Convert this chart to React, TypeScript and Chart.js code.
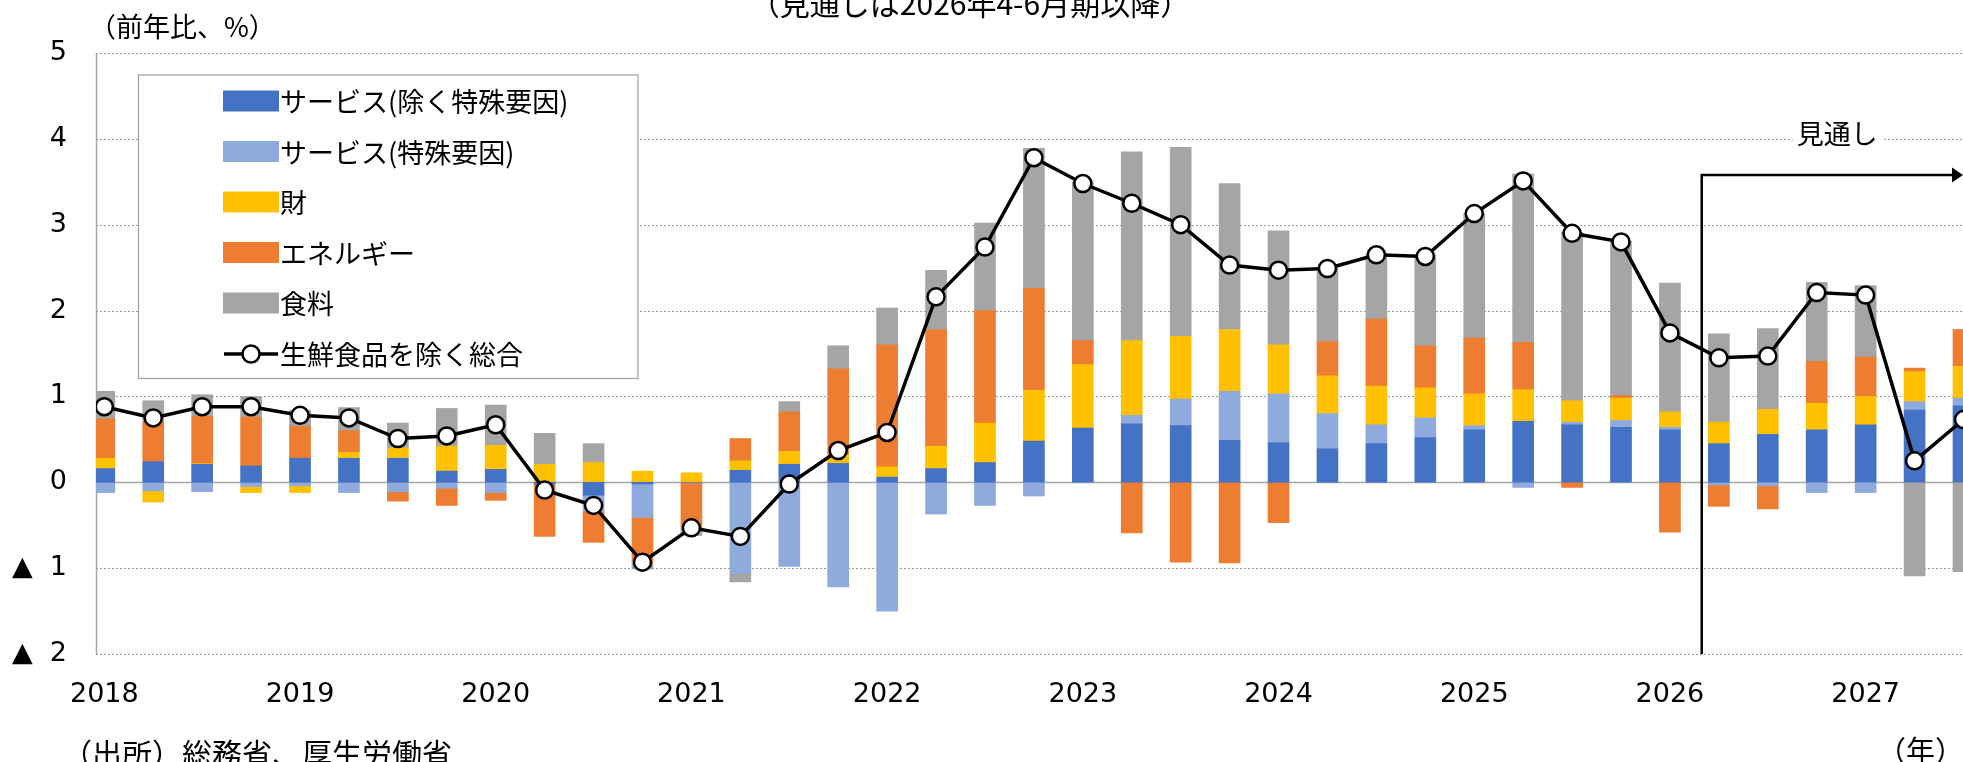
import { useEffect, useRef } from "react";
import { Chart, registerables } from "chart.js";

Chart.register(...registerables);

// Quarterly data, 2018 Q1 (index 0) to 2027 Q3 (index 38); forecast from 2026 Q2
const yearLabels = ["2018", "2019", "2020", "2021", "2022", "2023", "2024", "2025", "2026", "2027"];
const yearTickPositions = [0, 4, 8, 12, 16, 20, 24, 28, 32, 36];
const yAxisTicks = [5, 4, 3, 2, 1, 0, -1, -2];

// Contributions to the y/y change (% points)
const serviceCore = [
  0.16, 0.24, 0.21, 0.19, 0.28, 0.28, 0.28, 0.13,
  0.15, -0.02, -0.15, -0.02, 0.0, 0.14, 0.21, 0.22,
  0.06, 0.16, 0.23, 0.48, 0.63, 0.68, 0.66, 0.49,
  0.46, 0.39, 0.45, 0.52, 0.61, 0.71, 0.67, 0.64,
  0.61, 0.45, 0.56, 0.61, 0.67, 0.84, 0.89,
];
const serviceSpecial = [
  -0.12, -0.10, -0.11, -0.05, -0.04, -0.12, -0.11, -0.07,
  -0.12, 0.0, -0.19, -0.39, 0.0, -1.06, -0.98, -1.22,
  -1.50, -0.37, -0.27, -0.16, 0.0, 0.10, 0.31, 0.57,
  0.57, 0.41, 0.22, 0.23, 0.05, -0.06, 0.03, 0.08,
  0.03, -0.03, -0.04, -0.12, -0.12, 0.10, 0.09,
];
const goods = [
  0.12, -0.13, 0.01, -0.07, -0.08, 0.07, 0.12, 0.29,
  0.28, 0.21, 0.23, 0.13, 0.11, 0.11, 0.15, 0.10,
  0.12, 0.26, 0.46, 0.59, 0.74, 0.87, 0.73, 0.72,
  0.57, 0.44, 0.45, 0.35, 0.37, 0.37, 0.25, 0.26,
  0.18, 0.25, 0.29, 0.31, 0.33, 0.35, 0.37,
];
const energy = [
  0.46, 0.46, 0.55, 0.57, 0.37, 0.25, -0.11, -0.20,
  -0.09, -0.61, -0.36, -0.51, -0.55, 0.26, 0.46, 1.00,
  1.42, 1.36, 1.31, 1.19, 0.28, -0.59, -0.93, -0.94,
  -0.47, 0.40, 0.78, 0.49, 0.65, 0.55, -0.06, 0.03,
  -0.58, -0.25, -0.27, 0.49, 0.46, 0.04, 0.43,
];
const food = [
  0.32, 0.25, 0.25, 0.24, 0.19, 0.27, 0.29, 0.44,
  0.47, 0.36, 0.22, -0.09, -0.07, -0.10, 0.12, 0.27,
  0.43, 0.69, 1.02, 1.63, 1.85, 2.20, 2.20, 1.70,
  1.33, 0.86, 0.76, 1.06, 1.45, 1.96, 1.96, 1.80,
  1.50, 1.03, 0.94, 0.92, 0.83, -1.09, -1.04,
];
// CPI less fresh food, y/y %
const coreCpi = [
  0.88, 0.75, 0.88, 0.88, 0.78, 0.75, 0.51, 0.54,
  0.67, -0.09, -0.27, -0.93, -0.53, -0.63, -0.02, 0.37,
  0.58, 2.16, 2.74, 3.78, 3.48, 3.25, 3.00, 2.53,
  2.47, 2.49, 2.65, 2.63, 3.13, 3.51, 2.90, 2.80,
  1.74, 1.45, 1.47, 2.21, 2.18, 0.25, 0.73,
];

const barNames = ["サービス(除く特殊要因)", "サービス(特殊要因)", "財", "エネルギー", "食料"];
const lineName = "生鮮食品を除く総合";

// Forecast marker: boundary between 2026 Q1 and Q2, arrow level, caption position
const forecastStart = 32.65;
const forecastArrowLevel = 3.58;
const forecastCaptionX = 35.42;

const barColors = ["#4472C4", "#8FAADC", "#FFC000", "#ED7D31", "#A5A5A5"];
const FONT_JP = '"Noto Sans CJK JP", "Noto Sans CJK SC", sans-serif';
const FONT_NUM = '"DejaVu Sans", sans-serif';

const decorPlugin = {
  id: "decor",
  beforeDatasetsDraw(chart: any) {
    const { ctx, chartArea: a, scales } = chart;
    const y = scales.y;
    ctx.save();
    for (const v of yAxisTicks) {
      const py = Math.round(y.getPixelForValue(v)) + 0.5;
      ctx.beginPath();
      if (v === 0) {
        ctx.setLineDash([]);
        ctx.strokeStyle = "#a6a6a6";
        ctx.lineWidth = 1.5;
      } else {
        ctx.setLineDash([2, 2]);
        ctx.strokeStyle = "#9a9a9a";
        ctx.lineWidth = 1;
      }
      ctx.moveTo(a.left, py);
      ctx.lineTo(a.right, py);
      ctx.stroke();
    }
    ctx.setLineDash([]);
    ctx.strokeStyle = "#a6a6a6";
    ctx.lineWidth = 1.5;
    ctx.beginPath();
    ctx.moveTo(a.left + 0.5, a.top);
    ctx.lineTo(a.left + 0.5, a.bottom);
    ctx.stroke();
    ctx.restore();
  },
  afterDraw(chart: any) {
    const { ctx, chartArea: a, scales } = chart;
    const x = scales.x;
    const y = scales.y;
    ctx.save();

    // forecast arrow
    const fx = x.getPixelForValue(forecastStart);
    const fy = y.getPixelForValue(forecastArrowLevel);
    ctx.strokeStyle = "#000";
    ctx.fillStyle = "#000";
    ctx.lineWidth = 2.5;
    ctx.beginPath();
    ctx.moveTo(fx, a.bottom);
    ctx.lineTo(fx, fy);
    ctx.lineTo(a.right - 10, fy);
    ctx.stroke();
    ctx.beginPath();
    ctx.moveTo(a.right, fy);
    ctx.lineTo(a.right - 11, fy - 7.5);
    ctx.lineTo(a.right - 11, fy + 7.5);
    ctx.closePath();
    ctx.fill();

    // forecast caption
    ctx.font = `27px ${FONT_JP}`;
    ctx.textBaseline = "middle";
    ctx.textAlign = "center";
    const cx = x.getPixelForValue(forecastCaptionX);
    const cw = ctx.measureText("見通し").width;
    ctx.fillStyle = "#fff";
    ctx.fillRect(cx - cw / 2 - 4, 118, cw + 8, 31);
    ctx.fillStyle = "#000";
    ctx.fillText("見通し", cx, 134);

    // legend
    const lx = 138.5, ly = 75, lw = 499.5, lh = 303.5;
    ctx.fillStyle = "#fff";
    ctx.fillRect(lx, ly, lw, lh);
    ctx.strokeStyle = "#a0a0a0";
    ctx.lineWidth = 1.2;
    ctx.strokeRect(lx, ly, lw, lh);
    const rowY = [101, 151.5, 202, 252.5, 303, 354];
    ctx.font = `27px ${FONT_JP}`;
    ctx.textAlign = "left";
    ctx.textBaseline = "middle";
    barNames.forEach((name, k) => {
      ctx.fillStyle = barColors[k];
      ctx.fillRect(223, rowY[k] - 10.5, 56, 21);
      ctx.fillStyle = "#000";
      ctx.fillText(name, 280, rowY[k] + 1);
    });
    const ry = rowY[5];
    ctx.strokeStyle = "#000";
    ctx.lineWidth = 3.5;
    ctx.beginPath();
    ctx.moveTo(224, ry);
    ctx.lineTo(278, ry);
    ctx.stroke();
    ctx.beginPath();
    ctx.arc(251, ry, 8.5, 0, Math.PI * 2);
    ctx.fillStyle = "#fff";
    ctx.fill();
    ctx.lineWidth = 2.5;
    ctx.stroke();
    ctx.fillStyle = "#000";
    ctx.fillText(lineName, 280, ry + 1);

    // titles and notes
    ctx.font = `27px ${FONT_JP}`;
    ctx.textAlign = "left";
    ctx.fillText("（前年比、%）", 89, 27);
    ctx.font = `30px ${FONT_JP}`;
    ctx.textAlign = "center";
    ctx.fillText("（見通しは2026年4-6月期以降）", 970, 4);
    ctx.textAlign = "left";
    ctx.fillText("（出所）総務省、厚生労働省", 62, 754);
    ctx.font = `29px ${FONT_JP}`;
    ctx.fillText("（年）", 1877, 751);
    ctx.restore();
  },
};

export default function App() {
  const canvasRef = useRef<HTMLCanvasElement | null>(null);

  useEffect(() => {
    const canvas = canvasRef.current;
    if (!canvas) return;
    const toXY = (arr: number[]) => arr.map((v, i) => ({ x: i, y: v }));
    const barSeries = [serviceCore, serviceSpecial, goods, energy, food];

    const chart = new Chart(canvas, {
      type: "bar",
      data: {
        datasets: [
          {
            type: "line",
            label: lineName,
            data: toXY(coreCpi),
            order: 0,
            borderColor: "#000",
            borderWidth: 3.5,
            pointRadius: 8.5,
            pointHoverRadius: 8.5,
            pointBackgroundColor: "#fff",
            pointBorderColor: "#000",
            pointBorderWidth: 2.5,
            tension: 0,
          } as any,
          ...barSeries.map((arr, k) => ({
            type: "bar",
            label: barNames[k],
            data: toXY(arr),
            backgroundColor: barColors[k],
            borderWidth: 0,
            barThickness: 21,
            order: 1,
          })),
        ],
      },
      options: {
        animation: false,
        responsive: false,
        events: [],
        layout: { autoPadding: false, padding: { top: 53, left: 0, right: 0, bottom: 0 } },
        plugins: {
          legend: { display: false },
          tooltip: { enabled: false },
        },
        scales: {
          x: {
            type: "linear",
            min: -0.17,
            max: 37.99,
            offset: false,
            stacked: true,
            grid: { display: false, drawTicks: false, offset: false },
            border: { display: false },
            afterBuildTicks: (scale: any) => {
              scale.ticks = yearTickPositions.map((v) => ({ value: v }));
            },
            afterFit: (scale: any) => {
              scale.height = 108;
            },
            ticks: {
              autoSkip: false,
              maxRotation: 0,
              padding: 25,
              color: "#000",
              font: { family: FONT_NUM, size: 27 },
              callback: (v: any) => {
                const k = yearTickPositions.indexOf(Number(v));
                return k >= 0 ? yearLabels[k] : "";
              },
            },
          },
          y: {
            min: -2,
            max: 5,
            stacked: true,
            grid: { display: false, drawTicks: false },
            border: { display: false },
            afterFit: (scale: any) => {
              scale.width = 96;
            },
            ticks: {
              stepSize: 1,
              padding: 29,
              color: "#000",
              font: { family: FONT_NUM, size: 27 },
              callback: (v: any) => (Number(v) < 0 ? `▲  ${-Number(v)}` : `${v}`),
            },
          },
        },
      } as any,
      plugins: [decorPlugin],
    });
    return () => chart.destroy();
  }, []);

  return (
    <div
      style={{
        position: "fixed",
        left: 0,
        top: 0,
        width: 1963,
        height: 762,
        background: "#fff",
        overflow: "hidden",
      }}
    >
      <canvas ref={canvasRef} width={1963} height={762} style={{ display: "block" }} />
    </div>
  );
}
